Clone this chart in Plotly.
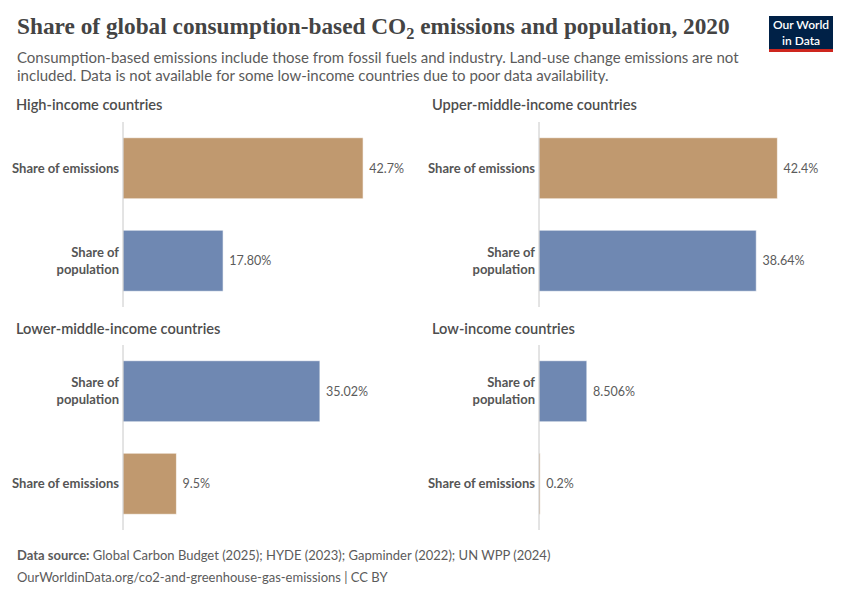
import plotly.graph_objects as go

# ----------------------------------------------------
# Data (shares of world total, 2020)
# ----------------------------------------------------
groups = [
    "High-income countries",
    "Upper-middle-income countries",
    "Lower-middle-income countries",
    "Low-income countries",
]
emissions_share = [42.7, 42.4, 9.5, 0.2]
population_share = [17.80, 38.64, 35.02, 8.506]
emissions_labels = ["42.7%", "42.4%", "9.5%", "0.2%"]
population_labels = ["17.80%", "38.64%", "35.02%", "8.506%"]

EMIS_COLOR = "#C0996F"
POP_COLOR = "#6F88B2"
TEXT = "#5b5b5b"
W, H = 850, 600
OFF = 8  # page body margin shifts the plot by this much


def px(x):
    return (x - OFF) / W


def py(y):
    return 1 - (y - OFF) / H


# panel boxes in pixels: (x0, x1, y_top, y_bottom)
panels = [
    (123, 403, 122, 307),
    (539, 819, 122, 307),
    (123, 403, 345, 530),
    (539, 819, 345, 530),
]
x_max = 49.8  # same scale for every panel

fig = go.Figure()

for i, g in enumerate(groups):
    n = "" if i == 0 else str(i + 1)
    rows = [
        ("Share of emissions", emissions_share[i], emissions_labels[i], EMIS_COLOR),
        ("Share of population", population_share[i], population_labels[i], POP_COLOR),
    ]
    # biggest value on top
    rows.sort(key=lambda r: r[1])
    cats = [r[0] for r in rows]
    fig.add_trace(go.Bar(
        x=[r[1] for r in rows],
        y=cats,
        text=[r[2] for r in rows],
        texttemplate=" %{text}",
        orientation="h",
        marker=dict(color=[r[3] for r in rows], line=dict(color="rgba(255,255,255,0.6)", width=1)),
        width=0.66,
        textposition="outside",
        cliponaxis=False,
        textfont=dict(family="Lato", size=12.5, color=TEXT),
        xaxis="x" + n,
        yaxis="y" + n,
        showlegend=False,
        hoverinfo="skip",
    ))

    x0, x1, yt, yb = panels[i]
    fig.layout["xaxis" + n] = dict(
        domain=[px(x0), px(x1)], range=[0, x_max], visible=False,
        anchor="y" + n, fixedrange=True,
    )
    fig.layout["yaxis" + n] = dict(
        domain=[py(yb), py(yt)], anchor="x" + n,
        showgrid=False, zeroline=False, ticks="",
        tickvals=cats,
        ticktext=["<b>" + c.replace("of population", "of<br>population") + "</b>" for c in cats],
        showline=False, automargin=False, ticklabelstandoff=3,
        tickfont=dict(family="Lato", size=13, color="#555555"),
        fixedrange=True,
    )
    # vertical axis line
    fig.add_shape(type="line", xref="paper", yref="paper",
                  x0=px(x0), x1=px(x0), y0=py(yb), y1=py(yt),
                  line=dict(color="#c8c8c8", width=1))
    # panel title
    fig.add_annotation(text=g, xref="paper", yref="paper",
                       x=px(14 if x0 < 400 else 430), y=py(yt - 17),
                       xanchor="left", yanchor="middle", showarrow=False,
                       font=dict(family="Lato", size=14.6, color="#4d4d4d", weight=600))

# title, subtitle, footer
fig.add_annotation(
    text="Share of global consumption-based CO<sub>2</sub> emissions and population, 2020",
    xref="paper", yref="paper", x=px(15), y=py(28), xanchor="left", yanchor="middle",
    showarrow=False, font=dict(family="Liberation Serif", size=23.3, color="#444444", weight="bold"))
subtitle_lines = [
    "Consumption-based emissions include those from fossil fuels and industry. Land-use change emissions are not",
    "included. Data is not available for some low-income countries due to poor data availability.",
]
for k, line in enumerate(subtitle_lines):
    fig.add_annotation(
        text=line, xref="paper", yref="paper", x=px(15), y=py(57 + 17.5 * k),
        xanchor="left", yanchor="middle", showarrow=False,
        font=dict(family="Lato", size=15, color=TEXT))
fig.add_annotation(
    text="<b>Data source:</b> Global Carbon Budget (2025); HYDE (2023); Gapminder (2022); UN WPP (2024)",
    xref="paper", yref="paper", x=px(15), y=py(555), xanchor="left", yanchor="middle",
    showarrow=False, font=dict(family="Lato", size=13, color=TEXT))
fig.add_annotation(
    text="OurWorldinData.org/co2-and-greenhouse-gas-emissions | CC BY",
    xref="paper", yref="paper", x=px(15), y=py(577), xanchor="left", yanchor="middle",
    showarrow=False, font=dict(family="Lato", size=13, color=TEXT))

# OWID logo
fig.add_shape(type="rect", xref="paper", yref="paper",
              x0=px(769), x1=px(833), y0=py(52), y1=py(16),
              fillcolor="#002147", line=dict(width=0))
fig.add_shape(type="rect", xref="paper", yref="paper",
              x0=px(769), x1=px(833), y0=py(52), y1=py(49),
              fillcolor="#ce261e", line=dict(width=0))
fig.add_annotation(text="Our World<br>in Data", xref="paper", yref="paper",
                   x=px(801), y=py(32), xanchor="center", yanchor="middle",
                   showarrow=False, font=dict(family="Lato", size=12, color="white", weight=600))

fig.update_layout(
    width=W, height=H,
    margin=dict(l=0, r=0, t=0, b=0),
    paper_bgcolor="white", plot_bgcolor="white",
)

fig.write_html("out.html")
